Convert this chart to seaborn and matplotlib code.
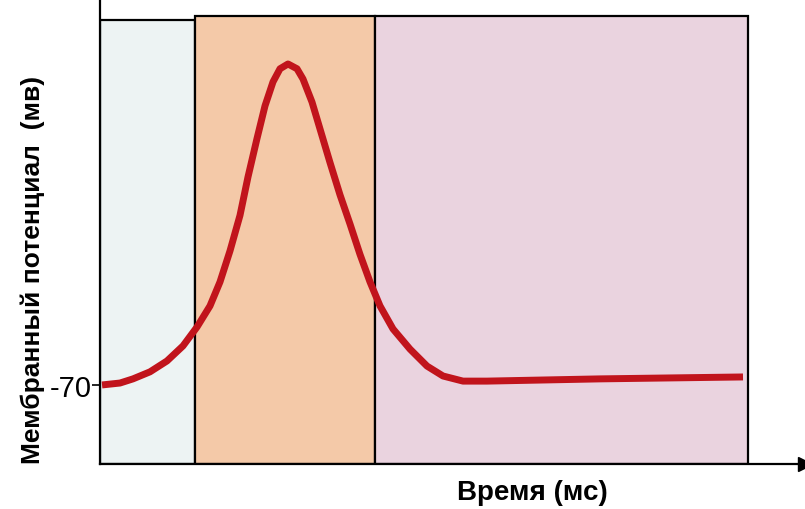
import numpy as np
import pandas as pd
import seaborn as sns
import matplotlib.pyplot as plt
from matplotlib.patches import Rectangle

# time (ms) and membrane potential (mV)
time_ms = [0.02, 0.20, 0.33, 0.50, 0.67, 0.83, 0.97, 1.10, 1.20, 1.30, 1.40,
           1.48, 1.57, 1.65, 1.73, 1.80, 1.88, 1.97, 2.03, 2.12, 2.20, 2.30,
           2.40, 2.50, 2.60, 2.70, 2.80, 2.93, 3.10, 3.27, 3.43, 3.63, 3.87,
           5.00, 6.43]
potential_mv = [-70.0, -69.4, -68.1, -65.9, -62.5, -57.8, -51.9, -45.3, -37.8,
                -28.1, -17.0, -5.0, 7.0, 17.2, 24.7, 28.8, 30.3, 28.8, 25.6,
                18.4, 10.0, -0.5, -10.6, -19.7, -29.2, -37.8, -45.3, -52.5,
                -58.8, -64.1, -67.2, -68.8, -68.8, -68.1, -67.5]

# phases of the spike (start, end in ms), fill colours
phase_bounds = [(0.0, 0.95), (0.95, 2.75), (2.75, 6.48)]
phase_tops = [44.0, 45.3, 45.3]
phase_colors = ["#edf3f3", "#f4c9a8", "#ead3df"]

tick_values = [-70]
tick_labels = ["-70"]

df = pd.DataFrame({"t": time_ms, "v": potential_mv})

sns.set_style("white")
plt.rcParams["font.family"] = ["Liberation Sans", "DejaVu Sans"]
plt.rcParams["text.color"] = "black"

fig = plt.figure(figsize=(8.05, 5.10), dpi=100)
ax = fig.add_axes([100 / 805, 45 / 510, 705 / 805, 465 / 510])
ax.set_xlim(0, 7.05)
ax.set_ylim(-94.7, 50.6)

for (x0, x1), top, col in zip(phase_bounds, phase_tops, phase_colors):
    ax.add_patch(Rectangle((x0, -94.7), x1 - x0, top + 94.7, facecolor=col,
                           edgecolor="black", linewidth=1.6, zorder=1))

sns.lineplot(data=df, x="t", y="v", color="#c1141c", linewidth=5, ax=ax,
             zorder=3, sort=False, solid_joinstyle="round",
             solid_capstyle="butt")

for s in ["top", "right"]:
    ax.spines[s].set_visible(False)
for s in ["left", "bottom"]:
    ax.spines[s].set_color("black")
    ax.spines[s].set_linewidth(1.6)
ax.plot([1], [0], marker=">", color="black", markersize=10,
        transform=ax.transAxes, clip_on=False)

ax.set_xticks([])
ax.set_yticks(tick_values)
ax.set_yticklabels(tick_labels, fontsize=21, color="black")
ax.tick_params(axis="y", length=6, width=1.2, pad=0, left=True, colors="black")

ax.set_xlabel("")
ax.set_ylabel("Мембранный потенциал  (мв)", fontsize=19, fontweight="bold",
              color="black")
ax.yaxis.set_label_coords(-0.078, 0.42)
ax.text(0.614, -0.06, "Время (мс)", transform=ax.transAxes, ha="center",
        va="center", fontsize=20, fontweight="bold", color="black")

fig.savefig("out.png", dpi=100)
